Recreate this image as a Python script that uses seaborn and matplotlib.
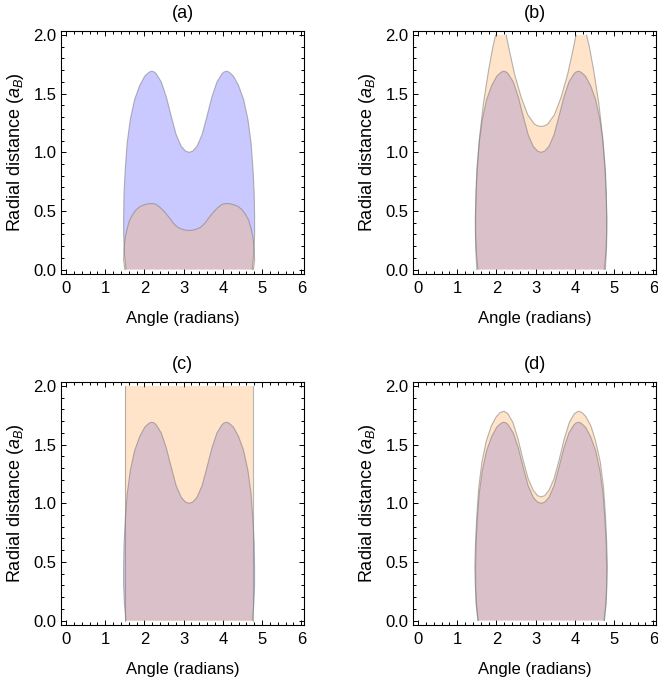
import numpy as np
import pandas as pd
import matplotlib
matplotlib.use("Agg")
import matplotlib.pyplot as plt
import seaborn as sns
from matplotlib.ticker import MultipleLocator

# ================== style ==================
sns.set_style("ticks")
plt.rcParams['font.family'] = ['Liberation Sans', 'DejaVu Sans']
plt.rcParams['mathtext.fontset'] = 'custom'
plt.rcParams['mathtext.rm'] = 'Liberation Sans'
plt.rcParams['mathtext.it'] = 'Liberation Sans:italic'
plt.rcParams['text.color'] = 'black'
plt.rcParams['axes.labelcolor'] = 'black'
plt.rcParams['xtick.color'] = 'black'
plt.rcParams['ytick.color'] = 'black'

# ================== data (outlines) ==================
# blue region, same in every panel
blue_theta = [1.53, 1.49, 1.47, 1.47, 1.48, 1.51, 1.56, 1.64, 1.75, 1.88, 2.01, 2.11, 2.16,
              2.20, 2.25, 2.30, 2.43, 2.56, 2.69, 2.81, 2.94, 3.05, 3.14,
              3.23, 3.34, 3.47, 3.59, 3.72, 3.85, 3.98, 4.03, 4.08, 4.12, 4.17, 4.27, 4.40,
              4.53, 4.64, 4.72, 4.77, 4.80, 4.81, 4.81, 4.79, 4.75]
blue_r = [0.00, 0.14, 0.30, 0.45, 0.65, 0.85, 1.08, 1.28, 1.45, 1.57, 1.65, 1.68, 1.69,
          1.69, 1.685, 1.67, 1.60, 1.47, 1.30, 1.15, 1.05, 1.01, 1.00,
          1.01, 1.05, 1.15, 1.30, 1.47, 1.60, 1.67, 1.685, 1.69, 1.69, 1.68, 1.65, 1.57,
          1.45, 1.28, 1.08, 0.85, 0.65, 0.45, 0.30, 0.14, 0.00]

# (a) orange region
orange_a_theta = [1.50, 1.47, 1.48, 1.51, 1.56, 1.62, 1.70, 1.79, 1.90, 2.02, 2.12, 2.21,
                  2.30, 2.40, 2.52, 2.64, 2.75, 2.85, 2.95, 3.05, 3.14,
                  3.23, 3.33, 3.43, 3.53, 3.64, 3.76, 3.88, 3.98, 4.07, 4.16, 4.26, 4.38,
                  4.49, 4.58, 4.66, 4.72, 4.77, 4.80, 4.81, 4.78]
orange_a_r = [0.00, 0.08, 0.18, 0.27, 0.35, 0.42, 0.47, 0.51, 0.54, 0.555, 0.562, 0.563,
              0.556, 0.53, 0.49, 0.44, 0.39, 0.36, 0.345, 0.336, 0.333,
              0.336, 0.345, 0.36, 0.39, 0.44, 0.49, 0.53, 0.556, 0.563, 0.562, 0.555, 0.54,
              0.51, 0.47, 0.42, 0.35, 0.27, 0.18, 0.08, 0.00]

# (b) orange region (clipped at 2.0)
orange_b_theta = [1.50, 1.47, 1.46, 1.48, 1.50, 1.57, 1.67, 1.80, 1.91, 1.98, 2.25,
                  2.31, 2.46, 2.63, 2.80, 2.97, 3.06, 3.14,
                  3.22, 3.31, 3.48, 3.65, 3.82, 3.97, 4.03, 4.30,
                  4.37, 4.48, 4.61, 4.71, 4.78, 4.80, 4.82, 4.81, 4.78]
orange_b_r = [0.00, 0.20, 0.42, 0.65, 0.85, 1.13, 1.42, 1.70, 1.90, 2.00, 2.00,
              1.90, 1.67, 1.47, 1.32, 1.24, 1.225, 1.22,
              1.225, 1.24, 1.32, 1.47, 1.67, 1.90, 2.00, 2.00,
              1.90, 1.70, 1.42, 1.13, 0.85, 0.65, 0.42, 0.20, 0.00]

# (c) orange region
orange_c_theta = [1.50, 1.50, 4.78, 4.78]
orange_c_r = [0.00, 2.00, 2.00, 0.00]

# (d) orange region
orange_d_theta = [1.53, 1.48, 1.46, 1.45, 1.47, 1.50, 1.55, 1.63, 1.74, 1.87, 2.00, 2.10,
                  2.19, 2.29, 2.42, 2.55, 2.68, 2.81, 2.94, 3.05, 3.14,
                  3.23, 3.34, 3.47, 3.60, 3.73, 3.86, 3.99, 4.09, 4.18, 4.28, 4.41,
                  4.53, 4.65, 4.73, 4.78, 4.81, 4.83, 4.82, 4.80, 4.75]
orange_d_r = [0.00, 0.15, 0.32, 0.47, 0.69, 0.90, 1.14, 1.35, 1.53, 1.66, 1.74, 1.775,
              1.785, 1.765, 1.69, 1.55, 1.37, 1.21, 1.11, 1.065, 1.055,
              1.065, 1.11, 1.21, 1.37, 1.55, 1.69, 1.765, 1.785, 1.775, 1.74, 1.66,
              1.53, 1.35, 1.14, 0.90, 0.69, 0.47, 0.32, 0.15, 0.00]

panel_titles = ["(a)", "(b)", "(c)", "(d)"]
orange_sets = [(orange_a_theta, orange_a_r), (orange_b_theta, orange_b_r),
               (orange_c_theta, orange_c_r), (orange_d_theta, orange_d_r)]

BLUE, BLUE_A = "#0000FF", 0.21
ORANGE, ORANGE_A = "#FFAE5C", 0.33
EDGE = "#7a7a7a"
CLIP = 2.0


def edge_frame(theta, r):
    # split the outline where it runs along the clip line (no edge drawn there)
    seg, segs = 0, []
    for i in range(len(r)):
        if i > 0 and r[i] >= CLIP and r[i - 1] >= CLIP:
            seg += 1
        segs.append(seg)
    return pd.DataFrame({"theta": theta, "r": r, "seg": segs})


# ================== figure ==================
fig = plt.figure(figsize=(6.58, 6.86), dpi=100)
W, H = 658, 686
boxes = [(61.3, 30.7), (413.3, 30.7), (61.3, 381.7), (413.3, 381.7)]
aw, ah = 242.7, 243.3

for idx, (x0, y0) in enumerate(boxes):
    ax = fig.add_axes([x0 / W, (H - y0 - ah) / H, aw / W, ah / H])

    ax.fill(blue_theta, blue_r, color=BLUE, alpha=BLUE_A, lw=0)
    oth, orr = orange_sets[idx]
    ax.fill(oth, orr, color=ORANGE, alpha=ORANGE_A, lw=0)

    for th, rr in [(blue_theta, blue_r), (oth, orr)]:
        sns.lineplot(data=edge_frame(th, rr), x="theta", y="r", units="seg",
                     estimator=None, sort=False, color=EDGE, alpha=0.55,
                     lw=0.8, ax=ax, legend=False)

    ax.set_xlim(-0.12, 6.07)
    ax.set_ylim(-0.038, 2.037)
    ax.xaxis.set_major_locator(MultipleLocator(1))
    ax.xaxis.set_minor_locator(MultipleLocator(0.2))
    ax.yaxis.set_major_locator(MultipleLocator(0.5))
    ax.yaxis.set_minor_locator(MultipleLocator(0.1))
    ax.yaxis.set_major_formatter(matplotlib.ticker.FormatStrFormatter('%.1f'))
    ax.tick_params(which='both', direction='in', top=True, right=True,
                   width=0.7, color='black', labelsize=12, labelcolor='black')
    ax.tick_params(which='major', length=3.5)
    ax.tick_params(which='minor', length=2)
    ax.tick_params(axis='x', pad=5)
    ax.tick_params(axis='y', pad=3.5)
    for sp in ax.spines.values():
        sp.set_linewidth(0.8)
        sp.set_color('black')

    ax.set_xlabel("Angle (radians)", fontsize=12, labelpad=11, color='black')
    ax.set_ylabel(r"Radial distance ($a_B$)", fontsize=13, labelpad=5, color='black')
    ax.set_title(panel_titles[idx], fontsize=13, pad=9, color='black')

plt.savefig("out.png", dpi=100)
